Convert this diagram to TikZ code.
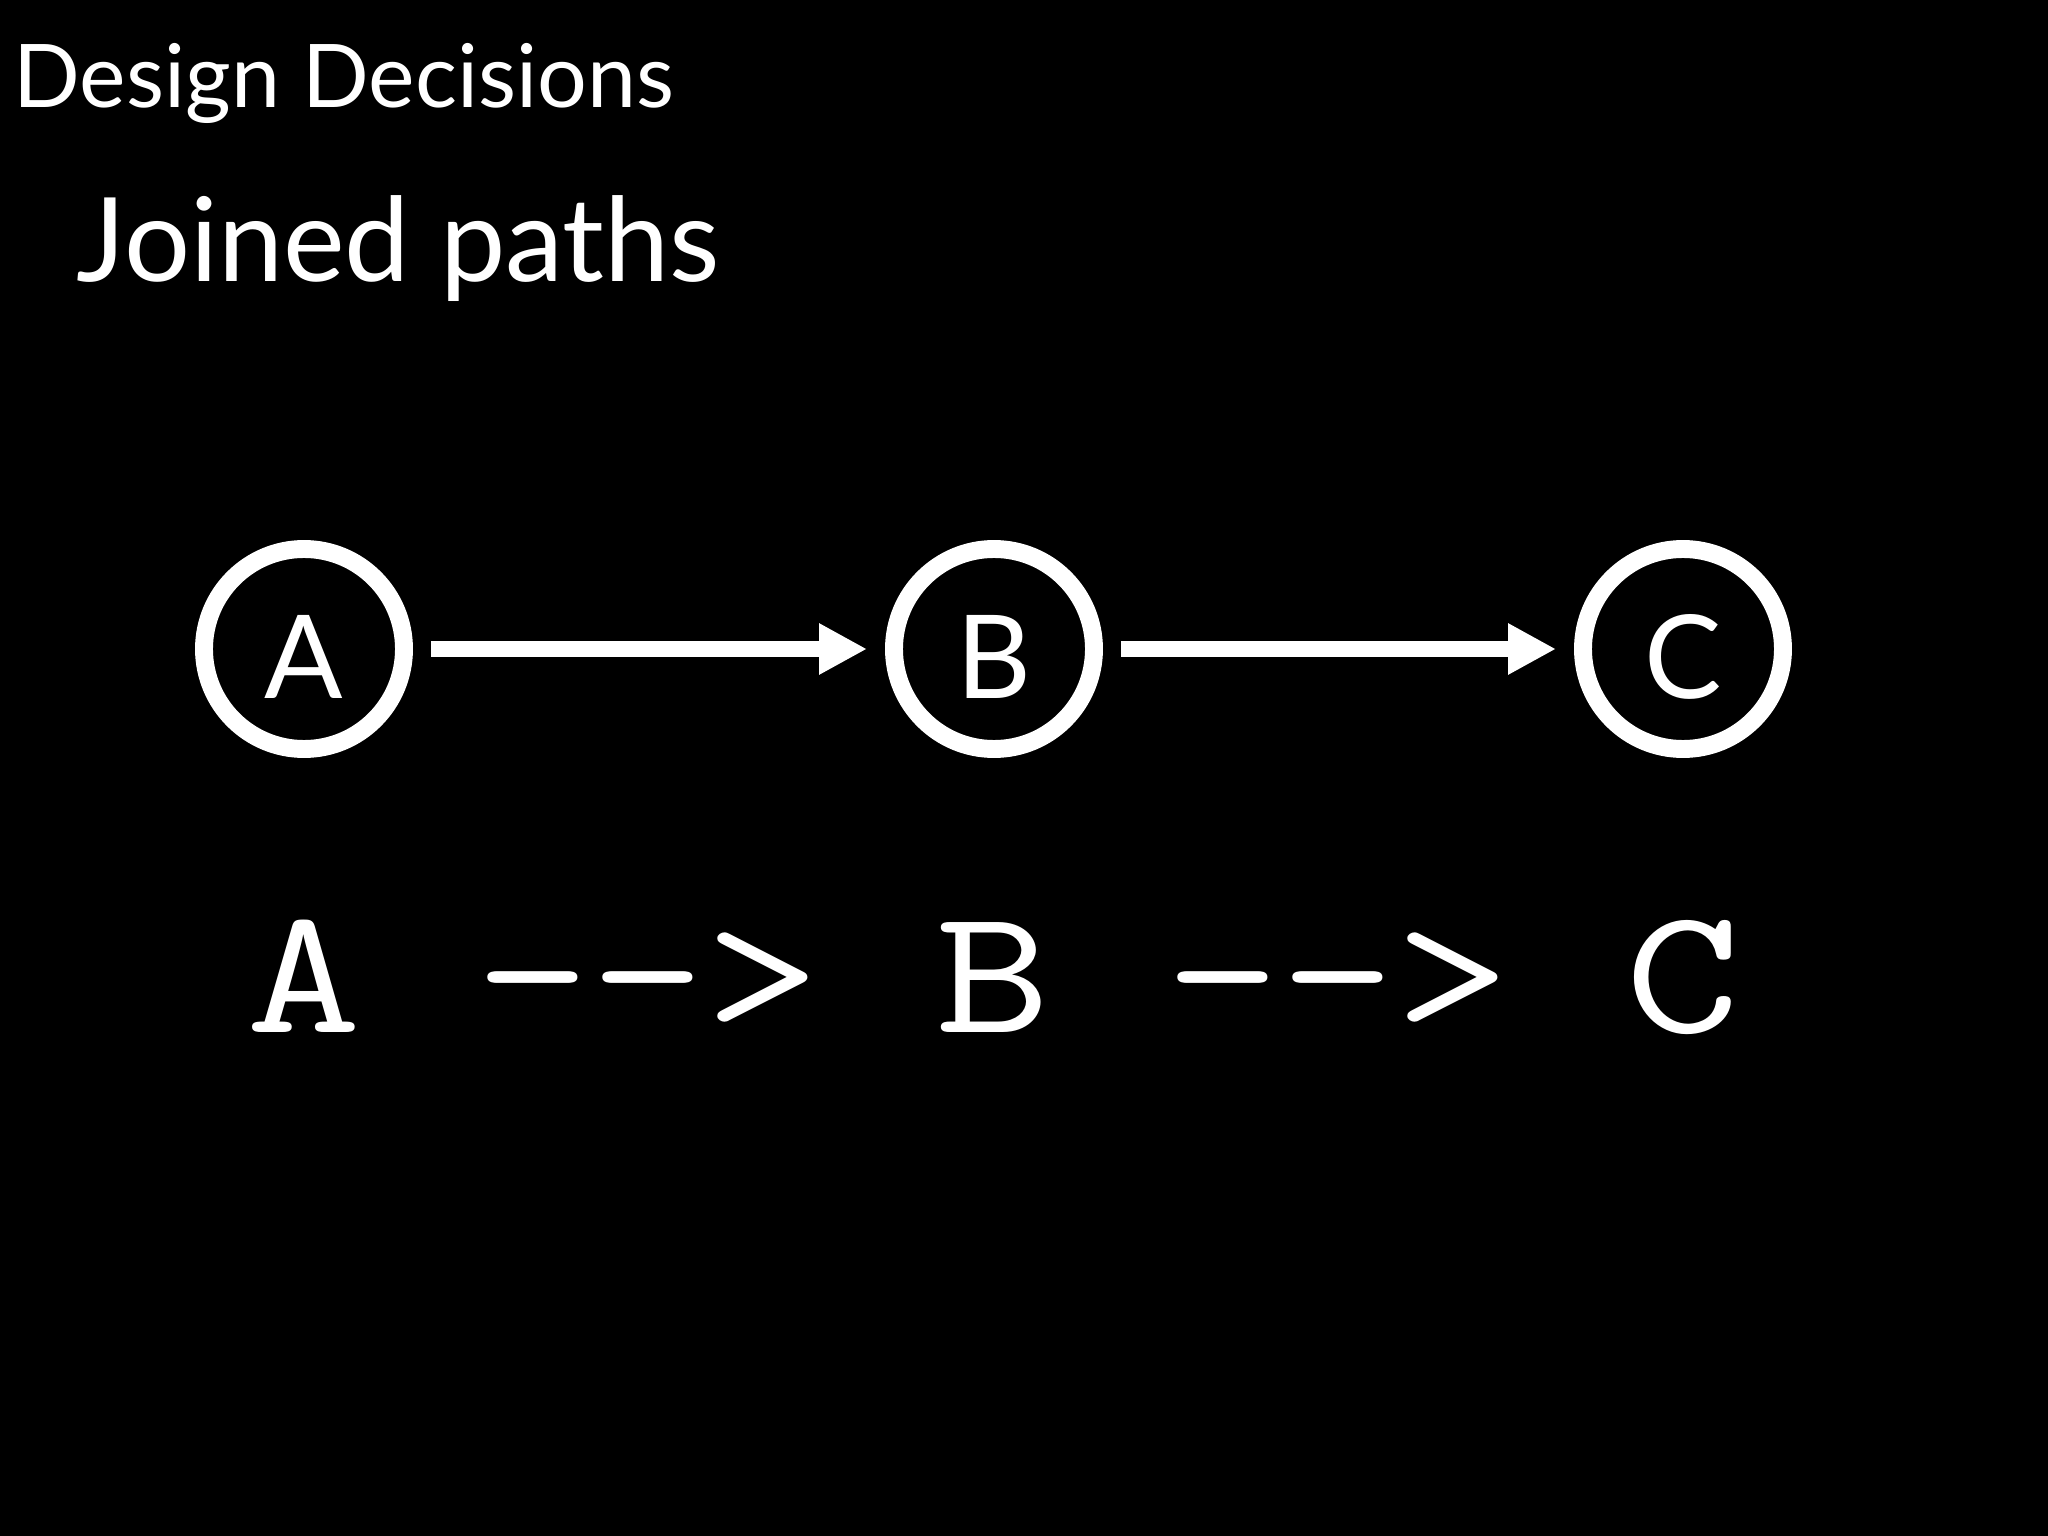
\documentclass[tikz,border=0pt]{standalone}
\usepackage{fontspec}
\setmainfont{Lato}
\usetikzlibrary{arrows.meta}

\begin{document}
\begin{tikzpicture}[
    state/.style={draw=white, circle, line width=5.1pt, minimum size=2cm,
        inner sep=0pt, text height=1cm, text depth=0pt, text=white,
        font=\fontsize{33}{36}\selectfont},
    link/.style={draw=white, line width=4.5pt,
        -{Triangle[length=0.48cm, width=0.48cm]},
        shorten <=0.18cm, shorten >=0.18cm},
    caption/.style={anchor=base west, inner sep=0pt, text=white}]
    \fill[black] (0, 0) rectangle (20.48, -15.36);
    \useasboundingbox (0, 0) rectangle (20.48, -15.36);

    \node[caption, font=\fontsize{25}{30}\selectfont] (title) at (0.13, -1.08) {Design Decisions};
    \node[caption, font=\fontsize{33.2}{40}\selectfont] (sub) at (0.76, -2.82) {Joined paths};

    \node[state] (A) at (3.04, -6.49) {A};
    \node[state] (B) at (9.94, -6.49) {B};
    \node[state] (C) at (16.83, -6.49) {C};

    \draw[link] (A) -- (B);
    \draw[link] (B) -- (C);

    \node[anchor=base, inner sep=0pt, text=white,
        font=\ttfamily\fontsize{51.2}{60}\selectfont] (code) at (9.93, -10.32)
        {\scalebox{1.24}[1]{A --> B --> C}};
\end{tikzpicture}
\end{document}
